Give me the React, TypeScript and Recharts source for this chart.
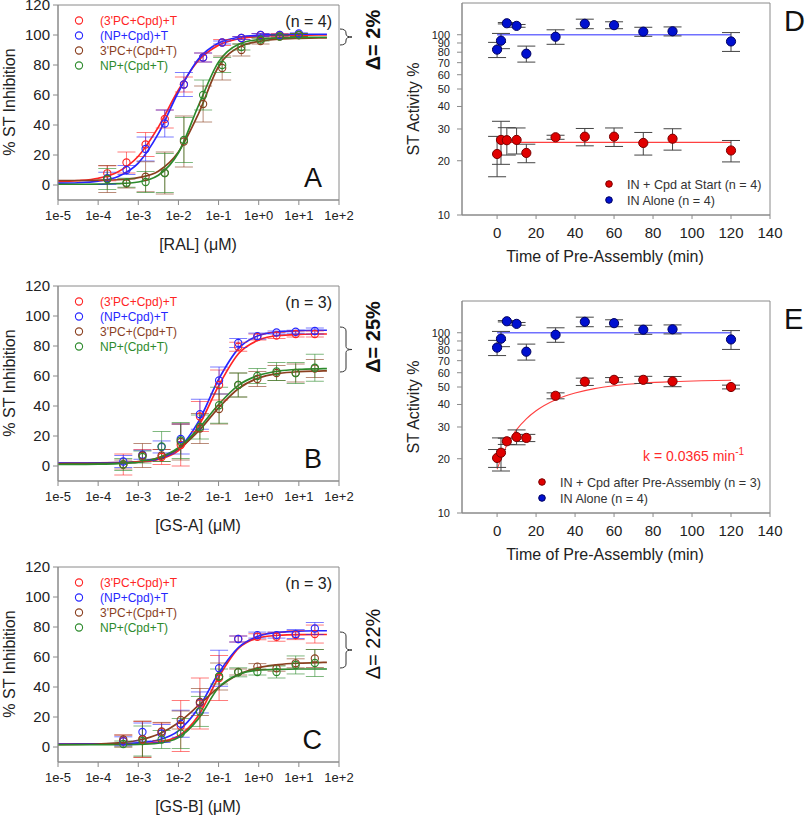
import React from "react";
import { ComposedChart, Line, Scatter, XAxis, YAxis, ErrorBar, ReferenceArea } from "recharts";

// ---------------------------------------------------------------------------
// Data — dose-response panels (A, B, C)
// ---------------------------------------------------------------------------

const SERIES_NAMES = ["(3'PC+Cpd)+T", "(NP+Cpd)+T", "3'PC+(Cpd+T)", "NP+(Cpd+T)"];
const SERIES_COLORS = ["#ff2424", "#2626ff", "#8a3f1f", "#2c8a2c"];

const DOSE_TICKS = [1e-5, 1e-4, 1e-3, 1e-2, 1e-1, 1, 10, 100];
const DOSE_TICK_LABELS = ["1e-5", "1e-4", "1e-3", "1e-2", "1e-1", "1e+0", "1e+1", "1e+2"];
const PCT_TICKS = [0, 20, 40, 60, 80, 100, 120];

const RAL_CONC = [1.69e-4, 5.08e-4, 1.52e-3, 4.57e-3, 0.0137, 0.0412, 0.123, 0.37, 1.11, 3.33, 10];
const GS_CONC = [4.23e-4, 1.27e-3, 3.81e-3, 0.0114, 0.0343, 0.103, 0.309, 0.926, 2.78, 8.33, 25];
const FIT_CONC = [1e-5, 3.16e-5, 1e-4, 3.16e-4, 1e-3, 3.16e-3, 0.01, 0.0316, 0.1, 0.316, 1, 3.16, 10, 31.6, 50];

const A_RED = [7.8, 15, 27, 44, 67, 85, 95, 98, 100, 100, 100];
const A_RED_ERR = [5, 7, 8, 6, 5, 3, 2, 1, 1, 1, 1];
const A_BLUE = [4.5, 10, 24, 41, 67, 85, 95, 98, 100, 100, 101];
const A_BLUE_ERR = [4, 3, 8, 9, 8, 3, 1, 1, 1, 0.5, 0.5];
const A_BROWN = [4, 1, 5.5, 8, 29, 54, 78, 90, 96, 99, 100];
const A_BROWN_ERR = [9, 3, 10, 14, 17, 12, 8, 4, 2, 1, 1];
const A_GREEN = [4, 1.5, 2, 8, 30, 60, 80, 92, 97, 99, 100];
const A_GREEN_ERR = [7, 3, 7, 13, 15, 10, 5, 2, 1, 1, 1];
const A_RED_FIT = [2.3, 2.9, 4.5, 8.9, 19.2, 38.6, 63.3, 83, 93.2, 97.5, 99.1, 99.7, 99.9, 100, 100];
const A_BLUE_FIT = [1.2, 1.5, 2.6, 5.7, 14.6, 34.2, 62, 84, 94.6, 98.5, 99.9, 100.3, 100.5, 100.5, 100.5];
const A_BROWN_FIT = [3, 3, 3.2, 3.5, 4.9, 9.2, 22, 47.5, 79, 91.8, 95.7, 97.3, 97.8, 98, 98];
const A_GREEN_FIT = [0.5, 0.5, 0.6, 0.9, 2, 6.5, 21.5, 53, 82.1, 93.9, 97, 98.1, 98.4, 98.5, 98.5];

const B_RED = [1, 7, 6, 14, 33, 54, 79.5, 86, 87, 88, 88];
const B_RED_ERR = [7, 4, 5, 14, 10, 10, 3, 2, 2, 2, 2];
const B_BLUE = [3, 7.5, 12.7, 18, 34.5, 57, 82, 86.6, 89, 89.5, 90];
const B_BLUE_ERR = [4, 3, 4, 10, 10, 9, 3, 2, 1, 1, 2];
const B_BROWN = [1, 7, 7, 16, 25, 38, 54, 58, 62, 62, 65];
const B_BROWN_ERR = [3, 8, 4, 12, 10, 10, 8, 5, 5, 6, 6];
const B_GREEN = [1, 6, 13, 17, 26, 40.5, 54, 60, 63, 62, 65.5];
const B_GREEN_ERR = [4, 4, 10, 12, 8, 12, 8, 5, 6, 7, 9];
const B_RED_FIT = [2, 2, 2.05, 2.2, 2.6, 4.4, 10.2, 26.5, 53.4, 75, 84, 87, 87.7, 88, 88];
const B_BLUE_FIT = [2, 2, 2.05, 2.2, 2.75, 4.7, 11.5, 29.6, 57.7, 78.4, 87, 89.5, 90.2, 90.5, 90.5];
const B_BROWN_FIT = [1.5, 1.6, 1.7, 2, 3, 5.4, 11.4, 23.2, 38.8, 51.7, 58.7, 61.7, 62.9, 63.3, 63.4];
const B_GREEN_FIT = [1, 1.05, 1.2, 1.6, 2.6, 5.5, 12.2, 24.9, 41, 53.9, 60.5, 63.3, 64.4, 64.8, 64.9];

const C_RED = [4, 5, 10, 14, 29, 46, 72, 73.5, 73.5, 74.6, 75.3];
const C_RED_ERR = [4, 12, 6, 17, 17, 15, 2, 2, 3, 3, 6];
const C_BLUE = [3.8, 10, 9, 15.5, 29.7, 52.5, 72, 74.6, 74.6, 75.3, 79];
const C_BLUE_ERR = [3, 6, 6, 9, 7, 12, 2, 2, 2, 3, 4];
const C_BROWN = [5, 5.3, 10.4, 18, 30, 47, 50, 53.6, 52.5, 55.8, 59];
const C_BROWN_ERR = [3, 12, 6, 6, 9, 9, 2, 2, 2, 3, 6];
const C_GREEN = [2, 4, 5, 9, 23.7, 47, 49.8, 50, 50, 54.7, 56];
const C_GREEN_ERR = [2, 10, 6, 10, 10, 5, 3, 2, 4, 6, 9];
const C_RED_FIT = [2, 2, 2.01, 2.06, 2.3, 3.3, 7.3, 21, 46.5, 65.9, 72.8, 74.5, 74.9, 75, 75];
const C_BLUE_FIT = [2, 2.02, 2.06, 2.2, 2.8, 4.7, 10.8, 26, 49.2, 66.5, 74, 76.5, 77.2, 77.5, 77.5];
const C_BROWN_FIT = [1.6, 1.7, 2, 2.7, 4.5, 8.5, 16.2, 27.7, 39.7, 48.3, 52.9, 55, 55.9, 56.3, 56.4];
const C_GREEN_FIT = [1.5, 1.5, 1.5, 1.54, 1.7, 2.5, 6.3, 18.9, 39.7, 48.4, 51.25, 51.8, 52, 52, 52];

// ---------------------------------------------------------------------------
// Data — pre-assembly time panels (D, E)
// ---------------------------------------------------------------------------

const TIME = [0, 2, 5, 10, 15, 30, 45, 60, 75, 90, 120];
const TIME_TICKS = [0, 20, 40, 60, 80, 100, 120, 140];
const ACT_TICKS = [10, 20, 30, 40, 50, 60, 70, 80, 90, 100];

const ALONE = [82.7, 92.7, 115.8, 112, 78.5, 97.5, 115, 113, 104, 104.5, 91.8];
const ALONE_ERR = [8, 9, 1, 2, 8, 9, 7, 5, 6, 6, 11];
const ALONE_FIT_T = [0, 120];
const ALONE_FIT = [100, 100];

const D_RED = [21.8, 26.1, 26, 26.1, 22.1, 27, 27.2, 27.2, 25.1, 26.5, 22.8];
const D_RED_ERR = [5.5, 7, 4.5, 4.3, 2.6, 0.7, 3, 3.2, 3.6, 3.6, 3.1];
const D_RED_FIT_T = [0, 120];
const D_RED_FIT = [25.3, 25.3];

const E_RED = [20.2, 21.6, 25, 26.4, 26.1, 44.7, 53.5, 54.8, 54.8, 53.7, 50];
const E_RED_ERR = [2.3, 4.5, 1, 2.5, 1.2, 1.7, 2.5, 1.6, 2.5, 3.5, 1.2];
const E_RED_FIT_T = [0, 5, 10, 15, 20, 30, 40, 50, 60, 75, 90, 105, 120];
const E_RED_FIT = [17.5, 23.8, 29, 33.3, 36.9, 42.5, 46.3, 49, 50.8, 52.6, 53.6, 54.2, 54.5];

// ---------------------------------------------------------------------------
// Helpers
// ---------------------------------------------------------------------------

const FONT = "'Liberation Sans', Arial, sans-serif";
const AXIS_GRAY = "#8a8a8a";

const pts = (xs: number[], ys: number[], es?: number[]) =>
  xs.map((x, i) => ({ x, y: ys[i], e: es ? es[i] : 0 }));

const openCircle = (color: string) => (p: any) =>
  <circle cx={p.cx} cy={p.cy} r={3.6} fill="none" stroke={color} strokeWidth={1.1} />;

const filledCircle = (fill: string, edge: string) => (p: any) =>
  <circle cx={p.cx} cy={p.cy} r={4.6} fill={fill} stroke={edge} strokeWidth={1} />;

const doseLabel = (v: number) => {
  const i = DOSE_TICKS.findIndex((t) => Math.abs(Math.log10(t) - Math.log10(v)) < 0.01);
  return i >= 0 ? DOSE_TICK_LABELS[i] : "";
};

// ---------------------------------------------------------------------------
// Panels
// ---------------------------------------------------------------------------

interface DoseProps {
  plotTop: number;
  conc: number[];
  ys: number[][];
  errs: number[][];
  fits: number[][];
}

function DosePanel({ plotTop, conc, ys, errs, fits }: DoseProps) {
  return (
    <div style={{ position: "absolute", left: 0, top: plotTop - 10 }}>
      <ComposedChart width={420} height={260} margin={{ top: 10, right: 81, bottom: 25, left: 8 }}>
        <XAxis
          type="number"
          dataKey="x"
          scale="log"
          domain={[1e-5, 100]}
          ticks={DOSE_TICKS}
          interval={0}
          allowDataOverflow
          height={30}
          tickSize={5}
          tickMargin={6}
          tickFormatter={doseLabel}
          tick={{ fontSize: 13, fill: "#222", fontFamily: FONT }}
          tickLine={{ stroke: AXIS_GRAY }}
          axisLine={{ stroke: AXIS_GRAY }}
        />
        <YAxis
          type="number"
          dataKey="y"
          domain={[-10, 120]}
          ticks={PCT_TICKS}
          interval={0}
          allowDataOverflow
          width={50}
          tickSize={5}
          tickMargin={3}
          tick={{ fontSize: 15, fill: "#222", fontFamily: FONT }}
          tickLine={{ stroke: AXIS_GRAY }}
          axisLine={{ stroke: AXIS_GRAY }}
        />
        <ReferenceArea x1={1e-5} x2={100} y1={-10} y2={120} fill="none" stroke={AXIS_GRAY} ifOverflow="visible" />
        {fits.map((f, k) => (
          <Line
            key={"fit" + k}
            data={pts(FIT_CONC, f)}
            dataKey="y"
            type="monotone"
            stroke={SERIES_COLORS[k]}
            strokeWidth={1.7}
            dot={false}
            activeDot={false}
            isAnimationActive={false}
          />
        ))}
        {ys.map((s, k) => (
          <Scatter
            key={"pts" + k}
            data={pts(conc, s, errs[k])}
            dataKey="y"
            shape={openCircle(SERIES_COLORS[k])}
            isAnimationActive={false}
          >
            <ErrorBar dataKey="e" direction="y" width={9} stroke={SERIES_COLORS[k]} strokeOpacity={0.6} strokeWidth={1} />
          </Scatter>
        ))}
      </ComposedChart>
    </div>
  );
}

interface TimeProps {
  plotTop: number;
  red: number[];
  redErr: number[];
  redFitT: number[];
  redFit: number[];
  redFitType: "monotone" | "linear";
}

function TimePanel({ plotTop, red, redErr, redFitT, redFit, redFitType }: TimeProps) {
  return (
    <div style={{ position: "absolute", left: 400, top: plotTop - 5 }}>
      <ComposedChart width={405} height={265} margin={{ top: 5, right: 35, bottom: 18, left: 22 }}>
        <XAxis
          type="number"
          dataKey="x"
          domain={[-18, 140]}
          ticks={TIME_TICKS}
          interval={0}
          allowDataOverflow
          height={30}
          tickSize={4}
          tickMargin={8}
          tick={{ fontSize: 15, fill: "#222", fontFamily: FONT }}
          tickLine={{ stroke: AXIS_GRAY }}
          axisLine={{ stroke: AXIS_GRAY }}
        />
        <YAxis
          type="number"
          dataKey="y"
          scale="log"
          domain={[10, 150]}
          ticks={ACT_TICKS}
          interval={0}
          allowDataOverflow
          width={40}
          tickSize={5}
          tickMargin={7}
          tick={{ fontSize: 11, fill: "#222", fontFamily: FONT }}
          tickLine={{ stroke: AXIS_GRAY }}
          axisLine={{ stroke: AXIS_GRAY }}
        />
        <ReferenceArea x1={-18} x2={140} y1={10} y2={150} fill="none" stroke={AXIS_GRAY} ifOverflow="visible" />
        <Line
          data={pts(ALONE_FIT_T, ALONE_FIT)}
          dataKey="y"
          type="linear"
          stroke="#7070ff"
          strokeWidth={1.3}
          dot={false}
          activeDot={false}
          isAnimationActive={false}
        />
        <Line
          data={pts(redFitT, redFit)}
          dataKey="y"
          type={redFitType}
          stroke="#ff4040"
          strokeWidth={1.1}
          dot={false}
          activeDot={false}
          isAnimationActive={false}
        />
        <Scatter data={pts(TIME, red, redErr)} dataKey="y" shape={filledCircle("#e00000", "#7a0000")} isAnimationActive={false}>
          <ErrorBar dataKey="e" direction="y" width={9} stroke="#444" strokeWidth={1} />
        </Scatter>
        <Scatter data={pts(TIME, ALONE, ALONE_ERR)} dataKey="y" shape={filledCircle("#0010d0", "#000060")} isAnimationActive={false}>
          <ErrorBar dataKey="e" direction="y" width={9} stroke="#444" strokeWidth={1} />
        </Scatter>
      </ComposedChart>
    </div>
  );
}

// ---------------------------------------------------------------------------
// Annotations
// ---------------------------------------------------------------------------

function Brace({ x, y1, y2 }: { x: number; y1: number; y2: number }) {
  const ym = (y1 + y2) / 2;
  const d = `M ${x} ${y1} Q ${x + 6} ${y1} ${x + 6} ${y1 + 4} L ${x + 6} ${ym - 3} Q ${x + 6} ${ym} ${x + 12} ${ym}
    Q ${x + 6} ${ym} ${x + 6} ${ym + 3} L ${x + 6} ${y2 - 4} Q ${x + 6} ${y2} ${x} ${y2}`;
  return <path d={d} fill="none" stroke="#333" strokeWidth={1} />;
}

function DoseAnnotations({ plotTop, xLabel, n, letter, delta, bold, brace }: any) {
  return (
    <g fontFamily={FONT}>
      <text x={15} y={plotTop + 97} transform={`rotate(-90 15 ${plotTop + 97})`} textAnchor="middle" fontSize={16} fill="#222">
        % ST Inhibition
      </text>
      <text x={198} y={plotTop + 245} textAnchor="middle" fontSize={16} fill="#222">
        {xLabel}
      </text>
      {SERIES_NAMES.map((name, k) => (
        <g key={name}>
          <circle cx={79} cy={plotTop + 15.5 + k * 15} r={3.6} fill="none" stroke={SERIES_COLORS[k]} strokeWidth={1.1} />
          <text x={100} y={plotTop + 20 + k * 15} fontSize={12} fill={SERIES_COLORS[k]}>
            {name}
          </text>
        </g>
      ))}
      <text x={332} y={plotTop + 22} textAnchor="end" fontSize={16} fill="#222">
        {n}
      </text>
      <text x={322} y={plotTop + 182} textAnchor="end" fontSize={27} fill="#111">
        {letter}
      </text>
      <Brace x={340} y1={brace[0]} y2={brace[1]} />
      <text
        x={380}
        y={delta[1]}
        transform={`rotate(-90 380 ${delta[1]})`}
        textAnchor="middle"
        fontSize={20}
        fontWeight={bold ? "bold" : "normal"}
        fill="#111"
      >
        {delta[0]}
      </text>
    </g>
  );
}

function TimeAnnotations({ plotTop, letter, legend, legendX }: any) {
  return (
    <g fontFamily={FONT}>
      <text x={419} y={plotTop + 106} transform={`rotate(-90 419 ${plotTop + 106})`} textAnchor="middle" fontSize={16} fill="#222">
        ST Activity %
      </text>
      <text x={605} y={plotTop + 259} textAnchor="middle" fontSize={16} fill="#222">
        Time of Pre-Assembly (min)
      </text>
      <text x={784} y={plotTop + 28} fontSize={29} fill="#111">
        {letter}
      </text>
      <circle cx={legendX} cy={plotTop + 181} r={3.3} fill="#e00000" stroke="#7a0000" />
      <text x={legendX + 18} y={plotTop + 185.5} fontSize={12.6} fill="#333">
        {legend}
      </text>
      <circle cx={legendX} cy={plotTop + 197} r={3.3} fill="#0010d0" stroke="#000060" />
      <text x={legendX + 18} y={plotTop + 201.5} fontSize={12.6} fill="#333">
        IN Alone (n = 4)
      </text>
    </g>
  );
}

// ---------------------------------------------------------------------------
// App
// ---------------------------------------------------------------------------

export default function App() {
  return (
    <div style={{ position: "relative", width: 805, height: 816, background: "#fff", overflow: "hidden" }}>
      <style>{"body{margin:0}"}</style>

      <DosePanel
        plotTop={5}
        conc={RAL_CONC}
        ys={[A_RED, A_BLUE, A_BROWN, A_GREEN]}
        errs={[A_RED_ERR, A_BLUE_ERR, A_BROWN_ERR, A_GREEN_ERR]}
        fits={[A_RED_FIT, A_BLUE_FIT, A_BROWN_FIT, A_GREEN_FIT]}
      />
      <DosePanel
        plotTop={286}
        conc={GS_CONC}
        ys={[B_RED, B_BLUE, B_BROWN, B_GREEN]}
        errs={[B_RED_ERR, B_BLUE_ERR, B_BROWN_ERR, B_GREEN_ERR]}
        fits={[B_RED_FIT, B_BLUE_FIT, B_BROWN_FIT, B_GREEN_FIT]}
      />
      <DosePanel
        plotTop={567}
        conc={GS_CONC}
        ys={[C_RED, C_BLUE, C_BROWN, C_GREEN]}
        errs={[C_RED_ERR, C_BLUE_ERR, C_BROWN_ERR, C_GREEN_ERR]}
        fits={[C_RED_FIT, C_BLUE_FIT, C_BROWN_FIT, C_GREEN_FIT]}
      />
      <TimePanel plotTop={3} red={D_RED} redErr={D_RED_ERR} redFitT={D_RED_FIT_T} redFit={D_RED_FIT} redFitType="linear" />
      <TimePanel plotTop={301} red={E_RED} redErr={E_RED_ERR} redFitT={E_RED_FIT_T} redFit={E_RED_FIT} redFitType="monotone" />

      <svg width={805} height={816} style={{ position: "absolute", left: 0, top: 0, pointerEvents: "none" }}>
        <DoseAnnotations plotTop={5} xLabel="[RAL] (μM)" n="(n = 4)" letter="A" delta={["Δ= 2%", 40]} bold brace={[29, 45]} />
        <DoseAnnotations plotTop={286} xLabel="[GS-A] (μM)" n="(n = 3)" letter="B" delta={["Δ= 25%", 337]} bold brace={[327, 372]} />
        <DoseAnnotations plotTop={567} xLabel="[GS-B] (μM)" n="(n = 3)" letter="C" delta={["Δ= 22%", 644]} bold={false} brace={[632, 668]} />
        <TimeAnnotations plotTop={3} letter="D" legend="IN + Cpd at Start (n = 4)" legendX={609} />
        <TimeAnnotations plotTop={301} letter="E" legend="IN + Cpd after Pre-Assembly (n = 3)" legendX={542} />
        <text x={643} y={461} fontFamily={FONT} fontSize={14} fill="#ff2a2a">
          k = 0.0365 min<tspan dy={-6} fontSize={10}>-1</tspan>
        </text>
      </svg>
    </div>
  );
}
